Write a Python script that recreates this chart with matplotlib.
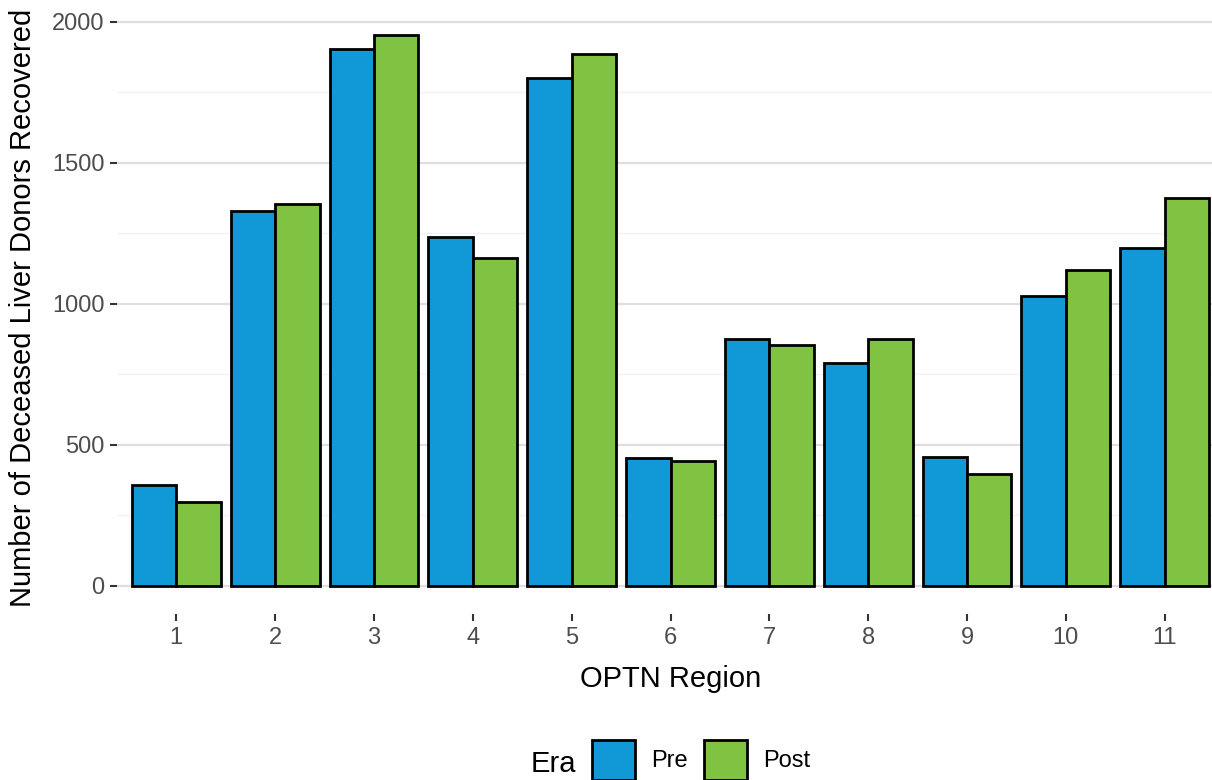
import matplotlib
matplotlib.use("Agg")
import matplotlib.pyplot as plt
from matplotlib.patches import Patch
import numpy as np

# dane
regions = ["1", "2", "3", "4", "5", "6", "7", "8", "9", "10", "11"]
pre_values = [358, 1331, 1905, 1239, 1800, 452, 874, 791, 458, 1028, 1198]
post_values = [298, 1354, 1952, 1164, 1887, 443, 854, 877, 396, 1119, 1375]
era_labels = ["Pre", "Post"]
y_ticks = [0, 500, 1000, 1500, 2000]
y_minor = [250, 750, 1250, 1750]

pre_color = "#1198D6"
post_color = "#80C342"

plt.rcParams["font.family"] = ["Liberation Sans", "DejaVu Sans"]

fig = plt.figure(figsize=(12.12, 7.8), dpi=100)
ax = fig.add_axes([117 / 1212, 1 - 613.5 / 780, 1107 / 1212, 605.9 / 780])

x = np.arange(1, len(regions) + 1)
w = 0.45
ax.bar(x - w / 2, pre_values, width=w, color=pre_color, edgecolor="black", linewidth=2.0, zorder=3)
ax.bar(x + w / 2, post_values, width=w, color=post_color, edgecolor="black", linewidth=2.0, zorder=3)

ax.set_xlim(0.4, 11.6)
ax.set_ylim(-97.6, 2050.6)

# siatka
for v in y_ticks:
    ax.axhline(v, color="#dedede", linewidth=1.6, zorder=1)
for v in y_minor:
    ax.axhline(v, color="#f2f2f2", linewidth=1.0, zorder=1)

for s in ax.spines.values():
    s.set_visible(False)

ax.set_xticks(x)
ax.set_xticklabels(regions)
ax.set_yticks(y_ticks)
ax.set_yticklabels([str(v) for v in y_ticks])
ax.tick_params(axis="both", colors="#333333", labelcolor="#4d4d4d", labelsize=17,
               length=5, width=1.5)
ax.tick_params(axis="x", pad=5)
ax.tick_params(axis="y", pad=4)

ax.set_xlabel("OPTN Region", fontsize=21, labelpad=11)
ax.set_ylabel("Number of Deceased Liver Donors Recovered", fontsize=21)
ax.yaxis.set_label_coords(-80 / 1107, 0.504)

# legenda
handles = [Patch(facecolor=pre_color, edgecolor="black", linewidth=2.0),
           Patch(facecolor=post_color, edgecolor="black", linewidth=2.0)]
fig.legend(handles, era_labels, loc="upper left", bbox_to_anchor=(592 / 1212, 1 - 740 / 780),
           ncol=2, frameon=False, fontsize=17, handlelength=1.8, handleheight=2.2,
           handletextpad=0.7, columnspacing=0.7, borderpad=0, borderaxespad=0)
fig.text(553 / 1212, 1 - 764 / 780, "Era", fontsize=21, ha="center", va="center")

fig.savefig("out.png", dpi=100)
